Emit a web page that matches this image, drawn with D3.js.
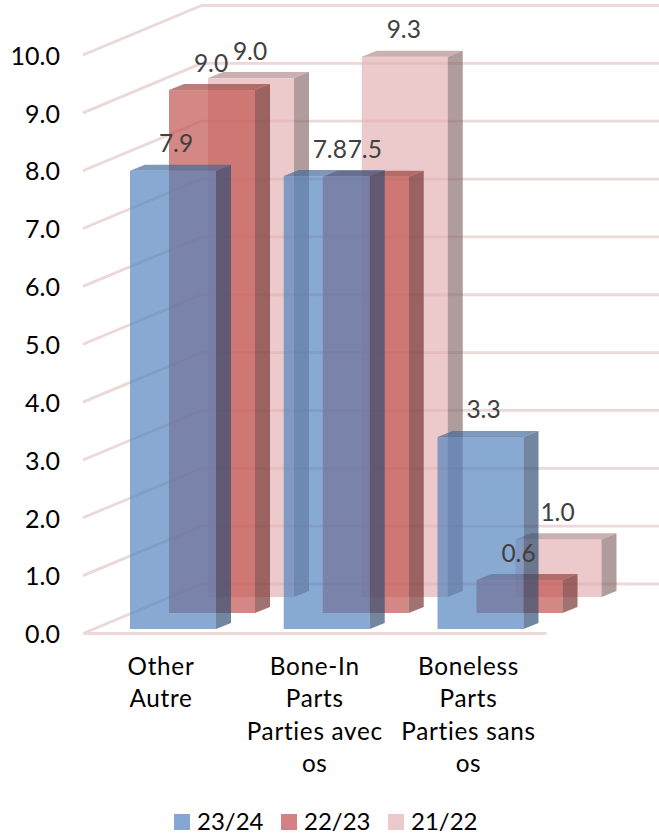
<!DOCTYPE html>
<html><head><meta charset="utf-8">
<script src="https://cdn.jsdelivr.net/npm/d3@7/dist/d3.min.js"></script>
<style>html,body{margin:0;padding:0;background:#fff}svg{display:block;font-family:Lato,Carlito,sans-serif;font-variant-ligatures:none}</style>
</head><body><svg id="c" width="659" height="836"></svg>
<script>
const categories = [["Other","Autre"],["Bone-In","Parts","Parties avec","os"],["Boneless","Parts","Parties sans","os"]];
const seriesNames = ["23/24","22/23","21/22"];
const values2324 = [7.92,7.83,3.32];
const values2223 = [9.04,7.54,0.57];
const values2122 = [8.97,9.34,1.0];
const seriesValues = [values2324,values2223,values2122];
const yTicks = [0,1,2,3,4,5,6,7,8,9,10];
const faceColors = [
 {front:"#4f81bd",side:"#2f4d71",top:"#3f6797"},
 {front:"#c0504d",side:"#73302e",top:"#99403e"},
 {front:"#e3b0b2",side:"#8b6d6d",top:"#b08c8e"}];
const legendColors = ["#85a7d1","#d48281","#ecc9cb"];

const svg = d3.select("#c");
const y = d3.scaleLinear().domain([0,10]).range([633.5,55]);
const wallDx = 118.5, wallDy = -49.5, wallRight = 659, floorRight = 546.5;
const barW = 86, sideDx = 15, sideDy = -6;
const x = d3.scalePoint().domain(d3.range(categories.length)).range([130,437.5]);
const depth = d3.scalePoint().domain(d3.range(seriesNames.length)).range([0,78]);
const depthBase = d3.scaleLinear().domain([0,78]).range([629,597]);
const line = d3.line();

// walls
const grid = svg.append("g").attr("fill","none").attr("stroke-linejoin","round");
const wallPath = t => line([[83,y(t)],[83+wallDx,y(t)+wallDy],[wallRight,y(t)+wallDy]]);
yTicks.forEach(t=>{
  grid.append("path").attr("d",wallPath(t)).attr("stroke","#e9d8d8").attr("stroke-width",2.8);
  grid.append("path").attr("d",wallPath(t)).attr("stroke","#f1d9d9").attr("stroke-width",1);
});
grid.append("path").attr("d",line([[83,y(0)],[floorRight,y(0)]])).attr("stroke","#ecdada").attr("stroke-width",3);

// bars, furthest series first
const bars = svg.append("g").attr("fill-opacity",0.68);
d3.range(seriesNames.length).reverse().forEach(s=>{
  seriesValues[s].forEach((v,c)=>{
    const x0 = x(c)+depth(s), base = depthBase(depth(s));
    const top = base-(y(0)-y(v));
    const col = faceColors[s];
    const g = bars.append("g");
    g.append("rect").attr("x",x0).attr("y",top).attr("width",barW).attr("height",base-top).attr("fill",col.front);
    g.append("path").attr("fill",col.side).attr("d",line([[x0+barW,top],[x0+barW+sideDx,top+sideDy],[x0+barW+sideDx,base+sideDy],[x0+barW,base]])+"Z");
    g.append("path").attr("fill",col.top).attr("d",line([[x0,top],[x0+sideDx,top+sideDy],[x0+barW+sideDx,top+sideDy],[x0+barW,top]])+"Z");
  });
});

// data labels
const labels = svg.append("g").attr("fill","#404040").attr("font-size",24.5).attr("text-anchor","middle");
d3.range(seriesNames.length).reverse().forEach(s=>{
  seriesValues[s].forEach((v,c)=>{
    const x0 = x(c)+depth(s), base = depthBase(depth(s));
    labels.append("text").attr("x",x0+(s===0?46:42)).attr("y",base-(y(0)-y(v))-18.5).text(d3.format(".1f")(v));
  });
});

// y axis
const ax = svg.append("g").attr("transform","translate(60,1.2)")
  .call(d3.axisLeft(y).tickValues(yTicks).tickSize(0).tickPadding(0).tickFormat(d3.format(".1f")));
ax.select(".domain").remove();
ax.selectAll("text").attr("font-size",25).attr("font-family","Lato,Carlito,sans-serif").attr("fill","#000");

// category labels
const catG = svg.append("g").attr("font-size",24.3).attr("letter-spacing",0.7).attr("fill","#000").attr("text-anchor","middle");
categories.forEach((lines,c)=>{
  lines.forEach((t,i)=>{
    catG.append("text").attr("x",x(c)+31).attr("y",674.5+i*32.6).text(t);
  });
});

// legend
const legX = [174,281,388];
const leg = svg.append("g").attr("font-size",24).attr("fill","#000");
seriesNames.forEach((n,i)=>{
  leg.append("rect").attr("x",legX[i]).attr("y",814).attr("width",16).attr("height",16).attr("fill",legendColors[i]);
  leg.append("text").attr("x",legX[i]+23).attr("y",830).text(n);
});
</script></body></html>
